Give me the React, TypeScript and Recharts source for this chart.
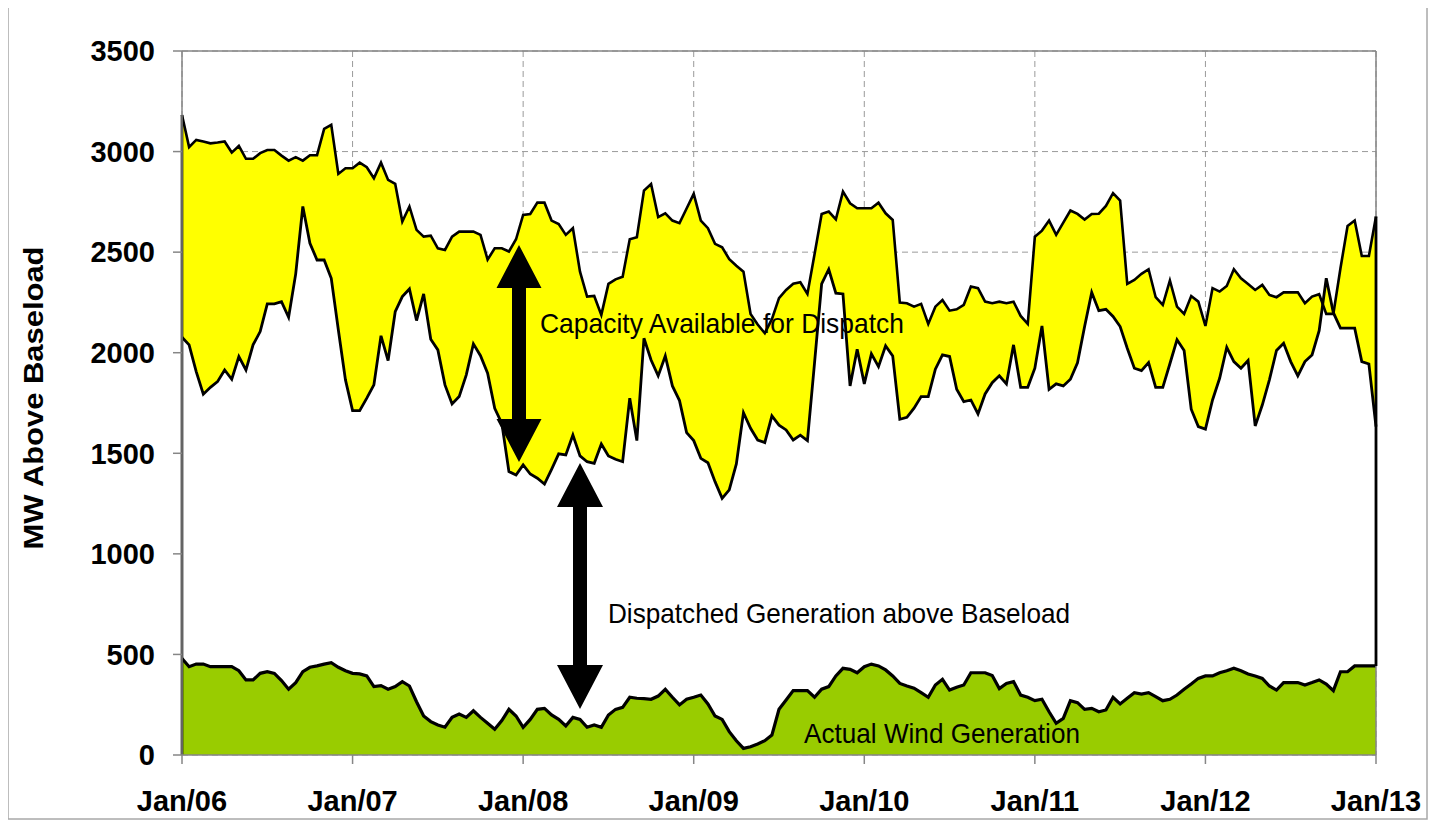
import React from 'react';
import { ComposedChart, Area, Line, XAxis, YAxis, CartesianGrid, ReferenceLine } from 'recharts';

// Semi-monthly periods, Jan 2006 .. Jan 2013 (169 points)
const tickLabels = ['Jan/06', 'Jan/07', 'Jan/08', 'Jan/09', 'Jan/10', 'Jan/11', 'Jan/12', 'Jan/13'];
const yTicks = [0, 500, 1000, 1500, 2000, 2500, 3000, 3500];

// Top of "Capacity Available for Dispatch" band (MW above baseload)
const upperCapacity = [
  3182, 3022, 3058, 3050, 3041, 3045, 3050, 2995, 3028, 2964, 2964, 2992, 3008, 3008, 2980, 2955, 2972, 2955, 2982, 2982,
  3113, 3133, 2889, 2917, 2917, 2945, 2922, 2867, 2945, 2859, 2839, 2652, 2727, 2611, 2577, 2582, 2519, 2511, 2577, 2602,
  2602, 2602, 2586, 2463, 2519, 2519, 2503, 2564, 2685, 2690, 2746, 2746, 2657, 2640, 2586, 2619, 2403, 2279, 2282, 2188,
  2342, 2365, 2378, 2564, 2574, 2806, 2839, 2674, 2693, 2657, 2644, 2717, 2790, 2657, 2619, 2541, 2524, 2465, 2432, 2403,
  2193, 2140, 2097, 2167, 2271, 2312, 2343, 2350, 2292, 2490, 2690, 2702, 2663, 2801, 2743, 2718, 2718, 2718, 2746, 2693,
  2660, 2249, 2246, 2229, 2243, 2143, 2229, 2262, 2209, 2216, 2238, 2329, 2321, 2254, 2246, 2254, 2246, 2254, 2183, 2143,
  2577, 2607, 2657, 2586, 2647, 2707, 2690, 2662, 2690, 2691, 2730, 2793, 2756, 2342, 2362, 2392, 2415, 2276, 2238, 2359,
  2229, 2193, 2282, 2254, 2133, 2321, 2304, 2332, 2415, 2370, 2342, 2312, 2337, 2287, 2276, 2300, 2300, 2300, 2246, 2279,
  2291, 2193, 2193, 2420, 2630, 2657, 2481, 2481, 2677,
];

// Dispatched generation above baseload
const dispatchedLevel = [
  2077, 2039, 1906, 1794, 1828, 1856, 1914, 1868, 1981, 1914, 2039, 2105, 2243, 2243, 2254, 2176, 2392, 2727, 2544, 2461,
  2461, 2370, 2113, 1865, 1712, 1712, 1774, 1840, 2084, 1961, 2204, 2279, 2317, 2160, 2292, 2067, 2014, 1840, 1745, 1782,
  1890, 2044, 1985, 1898, 1724, 1649, 1409, 1392, 1442, 1397, 1376, 1347, 1420, 1497, 1492, 1591, 1487, 1458, 1450, 1546,
  1487, 1470, 1458, 1774, 1563, 2072, 1964, 1885, 1984, 1835, 1762, 1603, 1563, 1475, 1453, 1359, 1276, 1318, 1447, 1702,
  1624, 1566, 1553, 1686, 1640, 1616, 1566, 1590, 1563, 1950, 2342, 2415, 2296, 2292, 1835, 2017, 1845, 1994, 1931, 2034,
  1984, 1669, 1679, 1724, 1782, 1782, 1918, 1989, 1981, 1818, 1757, 1765, 1696, 1795, 1851, 1885, 1845, 2039, 1828, 1828,
  1923, 2133, 1818, 1845, 1835, 1868, 1950, 2130, 2300, 2209, 2216, 2180, 2130, 2022, 1923, 1911, 1951, 1828, 1828, 1945,
  2064, 2011, 1719, 1633, 1620, 1765, 1873, 2027, 1956, 1923, 1961, 1636, 1740, 1865, 2011, 2047, 1956, 1885, 1956, 1989,
  2110, 2370, 2199, 2122, 2122, 2122, 1956, 1944, 1633,
];

// Actual wind generation
const windGeneration = [
  480, 439, 452, 452, 439, 439, 439, 439, 419, 373, 373, 406, 414, 406, 370, 327, 360, 414, 436, 443,
  452, 459, 436, 419, 406, 403, 393, 340, 345, 327, 340, 365, 343, 265, 194, 166, 149, 138, 187, 204,
  187, 220, 187, 158, 128, 171, 227, 194, 138, 177, 227, 232, 199, 177, 144, 187, 177, 138, 149, 138,
  199, 227, 237, 287, 282, 280, 277, 293, 327, 287, 249, 277, 287, 298, 254, 194, 177, 116, 71, 33,
  41, 55, 71, 99, 227, 273, 320, 320, 320, 287, 327, 340, 393, 431, 426, 409, 439, 452, 443, 423,
  393, 356, 343, 332, 310, 287, 348, 376, 323, 337, 348, 409, 409, 409, 395, 330, 356, 365, 298, 287,
  270, 277, 215, 158, 182, 270, 260, 227, 232, 215, 224, 287, 254, 282, 310, 303, 310, 290, 270, 277,
  298, 327, 353, 381, 393, 393, 409, 419, 431, 419, 403, 393, 381, 343, 323, 360, 360, 360, 348, 360,
  373, 353, 320, 414, 414, 443, 443, 443, 443,
];

const PER_YEAR = 24;
const lastIndex = upperCapacity.length - 1;
const xTicks = tickLabels.map((_, i) => i * PER_YEAR);

const data = upperCapacity.map((u, i) => ({
  t: i,
  upper: u,
  mid: dispatchedLevel[i],
  wind: windGeneration[i],
}));

const FONT = "'Liberation Sans', Arial, Helvetica, sans-serif";
const AXIS_GRAY = '#868686';

function DoubleArrow({ cx, top, bottom, head, halfHead, halfShaft }: any) {
  const pts = [
    [cx, top],
    [cx + halfHead, top + head],
    [cx + halfShaft, top + head],
    [cx + halfShaft, bottom - head],
    [cx + halfHead, bottom - head],
    [cx, bottom],
    [cx - halfHead, bottom - head],
    [cx - halfShaft, bottom - head],
    [cx - halfShaft, top + head],
    [cx - halfHead, top + head],
  ]
    .map((p) => p.join(','))
    .join(' ');
  return <polygon points={pts} fill="#000" />;
}

export default function App() {
  return (
    <div style={{ position: 'relative', width: 1420, height: 813 }}>
      <ComposedChart
        width={1420}
        height={813}
        data={data}
        margin={{ top: 43, right: 52, bottom: 0, left: 0 }}
      >
        <CartesianGrid stroke="#9a9a9a" strokeDasharray="6 4" strokeWidth={1} />
        <XAxis
          type="number"
          dataKey="t"
          domain={[0, lastIndex]}
          ticks={xTicks}
          interval={0}
          tickFormatter={(v: number) => tickLabels[Math.round(v / PER_YEAR)]}
          height={66}
          tickSize={9}
          tickMargin={26}
          axisLine={{ stroke: AXIS_GRAY, strokeWidth: 1.5 }}
          tickLine={{ stroke: AXIS_GRAY, strokeWidth: 1.5 }}
          tick={{ fill: '#000', fontSize: 29, fontWeight: 'bold', fontFamily: FONT }}
        />
        <YAxis
          type="number"
          domain={[0, 3500]}
          ticks={yTicks}
          interval={0}
          width={174}
          tickSize={9}
          tickMargin={18}
          axisLine={{ stroke: AXIS_GRAY, strokeWidth: 1.5 }}
          tickLine={{ stroke: AXIS_GRAY, strokeWidth: 1.5 }}
          tick={{ fill: '#000', fontSize: 29, fontWeight: 'bold', fontFamily: FONT }}
        />
        <Area
          type="linear"
          dataKey="wind"
          fill="#99cc00"
          fillOpacity={1}
          stroke="none"
          isAnimationActive={false}
          dot={false}
          activeDot={false}
        />
        <Area
          type="linear"
          dataKey={(d: any) => [d.wind, d.mid]}
          fill="#ffffff"
          fillOpacity={1}
          stroke="none"
          isAnimationActive={false}
          dot={false}
          activeDot={false}
        />
        <Area
          type="linear"
          dataKey={(d: any) => [d.mid, d.upper]}
          fill="#ffff00"
          fillOpacity={1}
          stroke="none"
          isAnimationActive={false}
          dot={false}
          activeDot={false}
        />
        <Line type="linear" dataKey="upper" stroke="#000" strokeWidth={2.6} dot={false} activeDot={false} isAnimationActive={false} />
        <Line type="linear" dataKey="mid" stroke="#000" strokeWidth={2.8} dot={false} activeDot={false} isAnimationActive={false} />
        <Line type="linear" dataKey="wind" stroke="#000" strokeWidth={3.2} dot={false} activeDot={false} isAnimationActive={false} />
        <ReferenceLine y={3500} stroke={AXIS_GRAY} strokeWidth={1.5} />
        <ReferenceLine x={lastIndex} stroke={AXIS_GRAY} strokeWidth={1.5} />
        <ReferenceLine
          segment={[{ x: 0, y: 0 }, { x: 0, y: upperCapacity[0] }]}
          stroke="#000"
          strokeWidth={2.6}
        />
        <ReferenceLine
          segment={[
            { x: lastIndex, y: windGeneration[lastIndex] },
            { x: lastIndex, y: upperCapacity[lastIndex] },
          ]}
          stroke="#000"
          strokeWidth={2.8}
        />
      </ComposedChart>
      <svg
        width={1440}
        height={825}
        style={{ position: 'absolute', left: -8, top: -8, pointerEvents: 'none', overflow: 'visible' }}
      >
        <rect x={8} y={7} width={1419} height={812} fill="none" stroke="#a8a8a8" strokeWidth={1.5} />
        <text
          transform="translate(43,398) rotate(-90)"
          textAnchor="middle"
          fontFamily={FONT}
          fontWeight="bold"
          fontSize={28}
          textLength={303}
          lengthAdjust="spacingAndGlyphs"
          fill="#000"
        >
          MW Above Baseload
        </text>
        <DoubleArrow cx={519} top={245} bottom={462} head={43} halfHead={22.5} halfShaft={7} />
        <DoubleArrow cx={580} top={463} bottom={709} head={44} halfHead={23} halfShaft={7} />
        <text x={540} y={333} fontFamily={FONT} fontSize={28} textLength={364} lengthAdjust="spacingAndGlyphs" fill="#000">
          Capacity Available for Dispatch
        </text>
        <text x={608} y={623} fontFamily={FONT} fontSize={28} textLength={462} lengthAdjust="spacingAndGlyphs" fill="#000">
          Dispatched Generation above Baseload
        </text>
        <text x={804} y={743} fontFamily={FONT} fontSize={28} textLength={276} lengthAdjust="spacingAndGlyphs" fill="#000">
          Actual Wind Generation
        </text>
      </svg>
    </div>
  );
}
